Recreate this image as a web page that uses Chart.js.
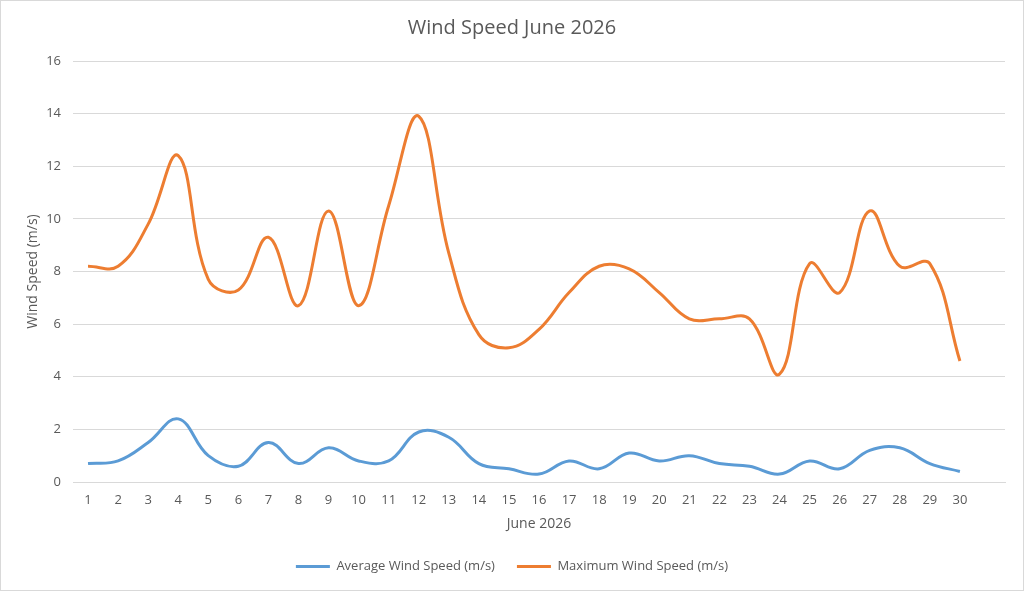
<!DOCTYPE html>
<html lang="en">
<head>
    <meta charset="UTF-8">
    <title>Wind Speed June 2026</title>
    <script src="https://cdn.jsdelivr.net/npm/chart.js"></script>
    <style>
        html, body {
            margin: 0;
            padding: 0;
            background-color: #fff;
        }
        .chart-container {
            position: relative;
            width: 1024px;
            height: 591px;
            box-sizing: border-box;
            border: 1px solid #d9d9d9;
        }
    </style>
</head>
<body>
    <div class="chart-container">
        <canvas id="windChart"></canvas>
    </div>

    <script>
        // values
        const days = [1, 2, 3, 4, 5, 6, 7, 8, 9, 10, 11, 12, 13, 14, 15,
                      16, 17, 18, 19, 20, 21, 22, 23, 24, 25, 26, 27, 28, 29, 30];
        const avgSpeed = [0.7, 0.8, 1.5, 2.4, 1.0, 0.6, 1.5, 0.7, 1.3, 0.8, 0.8, 1.9, 1.7, 0.7, 0.5,
                          0.3, 0.8, 0.5, 1.1, 0.8, 1.0, 0.7, 0.6, 0.3, 0.8, 0.5, 1.2, 1.3, 0.7, 0.4];
        const maxSpeed = [8.2, 8.2, 9.8, 12.4, 7.7, 7.3, 9.3, 6.7, 10.3, 6.7, 10.5, 13.9, 8.7, 5.6, 5.1,
                          5.8, 7.2, 8.2, 8.1, 7.2, 6.2, 6.2, 6.2, 4.1, 8.3, 7.2, 10.3, 8.2, 8.3, 4.6];
        const yTicks = [0, 2, 4, 6, 8, 10, 12, 14, 16];

        const textColor = '#595959';
        const gridColor = '#d9d9d9';

        Chart.defaults.font.family = "'Open Sans', sans-serif";
        Chart.defaults.color = textColor;

        function toPoints(values) {
            return days.map((d, i) => ({ x: d, y: values[i] }));
        }

        const ctx = document.getElementById('windChart').getContext('2d');
        new Chart(ctx, {
            type: 'line',
            data: {
                datasets: [{
                    label: 'Average Wind Speed (m/s)',
                    data: toPoints(avgSpeed),
                    borderColor: '#5b9bd5',
                    backgroundColor: '#5b9bd5',
                    borderWidth: 3,
                    pointRadius: 0,
                    tension: 0.4
                }, {
                    label: 'Maximum Wind Speed (m/s)',
                    data: toPoints(maxSpeed),
                    borderColor: '#ed7d31',
                    backgroundColor: '#ed7d31',
                    borderWidth: 3,
                    pointRadius: 0,
                    tension: 0.4
                }]
            },
            options: {
                responsive: true,
                maintainAspectRatio: false,
                animation: false,
                layout: {
                    padding: { left: 0, right: 0, top: 0, bottom: 7 }
                },
                scales: {
                    x: {
                        type: 'linear',
                        min: 0.5,
                        max: 31.5,
                        afterBuildTicks: scale => {
                            scale.ticks = days.map(d => ({ value: d }));
                        },
                        afterFit: scale => { scale.height = 56; },
                        grid: { display: false, drawTicks: false },
                        border: { display: true, color: gridColor, width: 1 },
                        ticks: {
                            padding: 10,
                            autoSkip: false,
                            maxRotation: 0,
                            font: { size: 13 },
                            color: textColor
                        },
                        title: {
                            display: true,
                            text: 'June 2026',
                            font: { size: 14 },
                            color: textColor,
                            padding: { top: 0, bottom: 6 }
                        }
                    },
                    y: {
                        min: 0,
                        max: 16,
                        afterBuildTicks: scale => {
                            scale.ticks = yTicks.map(v => ({ value: v }));
                        },
                        afterFit: scale => { scale.width = 72; },
                        grid: { color: gridColor, lineWidth: 1, drawTicks: false },
                        border: { display: false },
                        ticks: {
                            padding: 12,
                            font: { size: 13 },
                            color: textColor
                        },
                        title: {
                            display: true,
                            text: 'Wind Speed (m/s)',
                            font: { size: 14 },
                            color: textColor,
                            padding: { top: 24, bottom: 0 }
                        }
                    },
                    // empty right margin so title and legend stay centred on the page
                    yRight: {
                        position: 'right',
                        display: true,
                        afterFit: scale => { scale.width = 18; },
                        grid: { display: false, drawTicks: false },
                        border: { display: false },
                        ticks: { display: false }
                    }
                },
                plugins: {
                    title: {
                        display: true,
                        text: 'Wind Speed June 2026',
                        color: textColor,
                        font: { size: 20, weight: 'normal' },
                        padding: { top: 15, bottom: 21 }
                    },
                    legend: {
                        position: 'bottom',
                        labels: {
                            usePointStyle: true,
                            pointStyle: 'line',
                            pointStyleWidth: 34,
                            boxHeight: 3,
                            padding: 22,
                            font: { size: 13 },
                            color: textColor
                        }
                    },
                    tooltip: { enabled: false }
                }
            }
        });
    </script>
</body>
</html>
